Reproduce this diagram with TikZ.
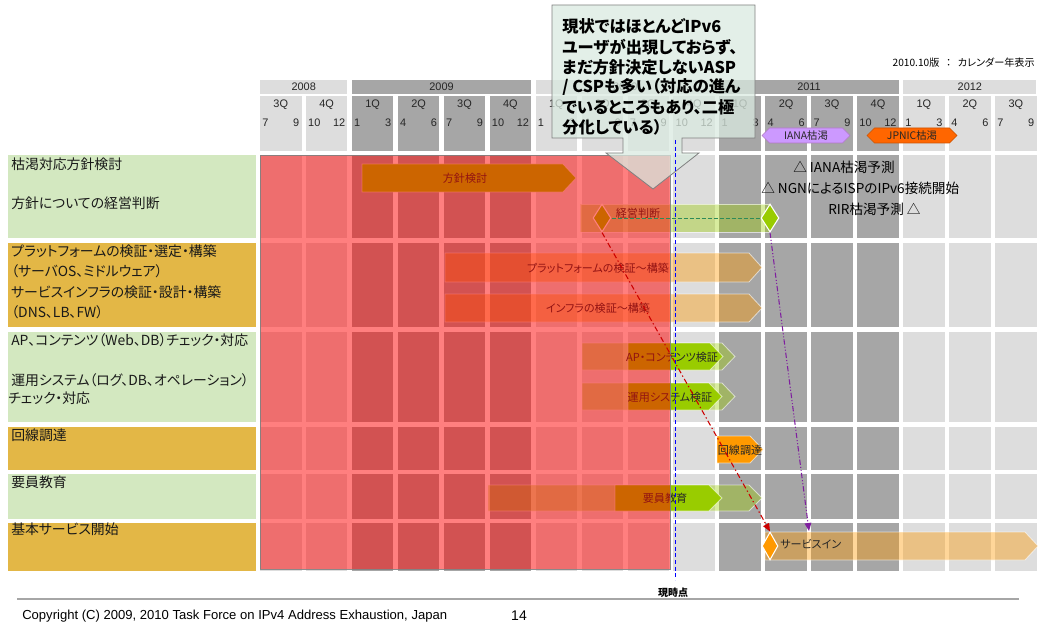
\documentclass[tikz,border=0pt]{standalone}
\usepackage{fontspec}
\setmainfont{Liberation Sans}
\newfontfamily\jp[RawFeature=+palt]{Noto Sans CJK JP}
\usetikzlibrary{shapes.geometric,shapes.symbols,arrows.meta}
\definecolor{hdrL}{HTML}{DDDDDD}
\definecolor{hdrD}{HTML}{A6A6A6}
\definecolor{labG}{HTML}{D3E8C0}
\definecolor{labO}{HTML}{E3B746}
\definecolor{barG}{HTML}{99CC00}
\definecolor{barO}{HTML}{FF9900}
\definecolor{txt}{HTML}{262626}
\definecolor{callfill}{HTML}{DAEAE0}
\definecolor{ianaP}{HTML}{CC99FF}
\definecolor{jpnicO}{HTML}{FF6600}
\definecolor{purp}{HTML}{7F1F9F}
\definecolor{redA}{HTML}{CC0000}
\definecolor{grnD}{HTML}{2E8B57}
\newcommand{\ganttbar}[5]{\path[#5] (#1,#3) -- ({#2-13},#3) -- (#2,{(#3+#4)/2}) -- ({#2-13},#4) -- (#1,#4) -- cycle;}
\begin{document}
\begin{tikzpicture}[x=0.75pt,y=-0.75pt,
  hdrtxt/.style={font=\fontsize{8.2}{9}\selectfont, text=txt, inner sep=0pt},
  labtxt/.style={font=\jp\fontsize{10.4}{11}\selectfont, text=black!90, anchor=west, inner sep=0pt},
  bartxt/.style={font=\jp\fontsize{8.3}{10}\selectfont, text=black!85, inner sep=0pt},
  paleG/.style={fill=barG, fill opacity=0.38, draw=white, draw opacity=0.6, line width=0.6pt},
  solidG/.style={fill=barG, draw=white, draw opacity=0.6, line width=0.6pt},
  paleO/.style={fill=barO, fill opacity=0.4, draw=white, draw opacity=0.6, line width=0.6pt},
  solidO/.style={fill=barO, draw=white, draw opacity=0.6, line width=0.6pt},
  mile/.style={diamond, draw=white, line width=0.8pt, inner sep=0pt, minimum width=13.5pt, minimum height=21pt},
  annot/.style={font=\jp\fontsize{10.2}{11}\selectfont, text=black, inner sep=0pt, anchor=west},
  calltxt/.style={font=\jp\bfseries\fontsize{12.2}{14}\selectfont, text=black, anchor=west, inner sep=0pt},
  exh/.style={signal, signal to=east and west, inner sep=0pt, minimum height=11.25pt, font=\jp\fontsize{7.8}{9}\selectfont, text=txt, line width=0.5pt},
]
\useasboundingbox (0,0) rectangle (1038,624);

% ---- year header
\foreach \a/\b/\yr/\col in {0/1/2008/L,2/5/2009/D,6/9/2010/L,10/13/2011/D,14/16/2012/L}{
  \pgfmathsetmacro{\xa}{260+\a*45.94}
  \pgfmathsetmacro{\xb}{260+(\b+1)*45.94-4.5}
  \fill[hdr\col] (\xa,80) rectangle (\xb,94);
  \node[hdrtxt] (yr\yr) at ({(\xa+\xb)/2},87) {\yr};
}
% ---- quarter cells and body grid
\foreach \c/\q/\col in {0/3/L,1/4/L,2/1/D,3/2/D,4/3/D,5/4/D,6/1/L,7/2/L,8/3/L,9/4/L,10/1/D,11/2/D,12/3/D,13/4/D,14/1/L,15/2/L,16/3/L}{
  \pgfmathsetmacro{\xa}{260+\c*45.94}
  \pgfmathsetmacro{\xb}{\xa+41.5}
  \pgfmathtruncatemacro{\ma}{3*\q-2}
  \pgfmathtruncatemacro{\mb}{3*\q}
  \fill[hdr\col] (\xa,96) rectangle (\xb,151);
  \node[hdrtxt] (q\c) at ({(\xa+\xb)/2},105) {\q Q};
  \node[hdrtxt, anchor=west] (ma\c) at ({\xa+2},123) {\ma};
  \node[hdrtxt, anchor=east] (mb\c) at ({\xb-2},123) {\mb};
  \foreach \ya/\yb in {155/238,243/327,332/422,427/470,474/519,523/571}
    \fill[hdr\col] (\xa,\ya) rectangle (\xb,\yb);
}

% ---- left labels
\foreach \ya/\yb/\col in {155/238/G,243/327/O,332/422/G,427/470/O,474/519/G,523/571/O}
  \fill[lab\col] (8,\ya) rectangle (256,\yb);
\node[labtxt] (l1) at (11,164) {枯渇対応方針検討};
\node[labtxt] (l2) at (11,203) {方針についての経営判断};
\node[labtxt] (l3) at (11,251) {プラットフォームの検証・選定・構築};
\node[labtxt] (l4) at (11,271) {（サーバOS、ミドルウェア）};
\node[labtxt] (l5) at (11,292) {サービスインフラの検証・設計・構築};
\node[labtxt] (l6) at (11,312) {（DNS、LB、FW）};
\node[labtxt] (l7) at (11,340) {AP、コンテンツ（Web、DB）チェック・対応};
\node[labtxt] (l8) at (11,380) {運用システム（ログ、DB、オペレーション）};
\node[labtxt] (l9) at (8,398) {チェック・対応};
\node[labtxt] (l10) at (11,435) {回線調達};
\node[labtxt] (l11) at (11,482) {要員教育};
\node[labtxt] (l12) at (11,529) {基本サービス開始};

% ---- bars
\ganttbar{362}{576}{164}{192}{solidG}
\node[bartxt] (t1) at (465,178) {方針検討};
\path[paleG] (580,204) rectangle (770,232);
\node[mile, fill=barG] (mK) at (602,218) {};
\node[bartxt] (t2) at (638,213) {経営判断};
\ganttbar{445}{762}{253}{282}{paleO}
\node[bartxt] (t3) at (598,268) {プラットフォームの検証～構築};
\ganttbar{445}{762}{294}{322}{paleO}
\node[bartxt] (t4) at (598,308) {インフラの検証～構築};
\ganttbar{582}{735}{343}{370}{paleG}
\ganttbar{628}{723}{343}{370}{solidG}
\node[bartxt] (t5) at (672,357) {AP・コンテンツ検証};
\ganttbar{582}{735}{383}{410}{paleG}
\ganttbar{628}{722}{383}{410}{solidG}
\node[bartxt] (t6) at (670,397) {運用システム検証};
\ganttbar{717}{763}{436}{463}{solidO}
\node[bartxt] (t7) at (740,450) {回線調達};
\ganttbar{488}{762}{485}{511}{paleG}
\ganttbar{615}{722}{485}{511}{solidG}
\node[bartxt] (t8) at (665,498) {要員教育};
\ganttbar{765}{1038}{532}{560}{paleO}
\node[bartxt, anchor=west] (t9) at (780,544) {サービスイン};

% ---- red overlay (past)
\path[fill=red, fill opacity=0.5, draw=gray, draw opacity=0.9, line width=0.6pt] (260,155) rectangle (670,569);

% ---- milestones and links
\node[mile, fill=barG] (mG) at (770,218) {};
\node[mile, fill=barO, minimum width=12pt] (mS) at (770,546) {};
\coordinate (svcTop) at (809,531);
\draw[grnD, line width=0.6pt, dash pattern=on 3pt off 1.5pt] (mK.east) -- (mG.west);
\draw[redA, line width=0.8pt, dash pattern=on 4pt off 2pt on 1pt off 2pt, -{Triangle[length=6pt,width=5pt]}] (mK.south) -- (mS.north);
\draw[purp, line width=0.8pt, dash pattern=on 4pt off 1.5pt on 0.8pt off 1.5pt on 0.8pt off 1.5pt, -{Triangle[length=6pt,width=5pt]}] (mG.south) -- (svcTop);

% ---- annotations
\node[annot] (a1) at (793,167) {△ IANA枯渇予測};
\node[annot] (a2) at (761,188) {△ NGNによるISPのIPv6接続開始};
\node[annot] (a3) at (828,209) {RIR枯渇予測 △};
\node[exh, fill=ianaP, draw=purp!60, minimum width=66pt] (iana) at (806,135.5) {IANA枯渇};
\node[exh, fill=jpnicO, draw=jpnicO!80!black, minimum width=67.5pt] (jpnic) at (912,135.5) {JPNIC枯渇};
\node[font=\jp\fontsize{7.6}{8}\selectfont, anchor=east, inner sep=0pt] (ver) at (1035,63) {2010.10版\hspace{5pt}：\hspace{5pt}カレンダー年表示};

% ---- callout
\path[fill=callfill, fill opacity=0.75, draw=gray, line width=0.6pt] (552,5) -- (755,5) -- (755,138) -- (682,138) -- (682,153) -- (699,153) -- (653,189) -- (606,153) -- (623,153) -- (623,138) -- (552,138) -- cycle;
\node[calltxt] (c1) at (562,26) {現状ではほとんどIPv6};
\node[calltxt] (c2) at (562,47) {ユーザが出現しておらず、};
\node[calltxt] (c3) at (562,67) {まだ方針決定しないASP};
\node[calltxt] (c4) at (562,87) {/ CSPも多い（対応の進ん};
\node[calltxt] (c5) at (562,107) {でいるところもあり、二極};
\node[calltxt] (c6) at (562,127) {分化している）};

% ---- current time
\coordinate (nowTop) at (675,140);
\coordinate (nowBot) at (675,580);
\draw[blue, line width=0.7pt, dash pattern=on 3pt off 2pt] (nowTop) -- (nowBot);
\node[font=\jp\bfseries\fontsize{7.5}{9}\selectfont, inner sep=0pt] (now) at (673,593) {現時点};

% ---- footer
\coordinate (fl) at (17,599);
\coordinate (fr) at (1019,599);
\draw[gray!70, line width=0.8pt] (fl) -- (fr);
\node[anchor=west, font=\fontsize{9.8}{11}\selectfont, inner sep=0pt] (copy) at (22,616) {Copyright (C) 2009, 2010 Task Force on IPv4 Address Exhaustion, Japan};
\node[font=\fontsize{10.5}{12}\selectfont, inner sep=0pt] (pg) at (519,616) {14};
\end{tikzpicture}
\end{document}
